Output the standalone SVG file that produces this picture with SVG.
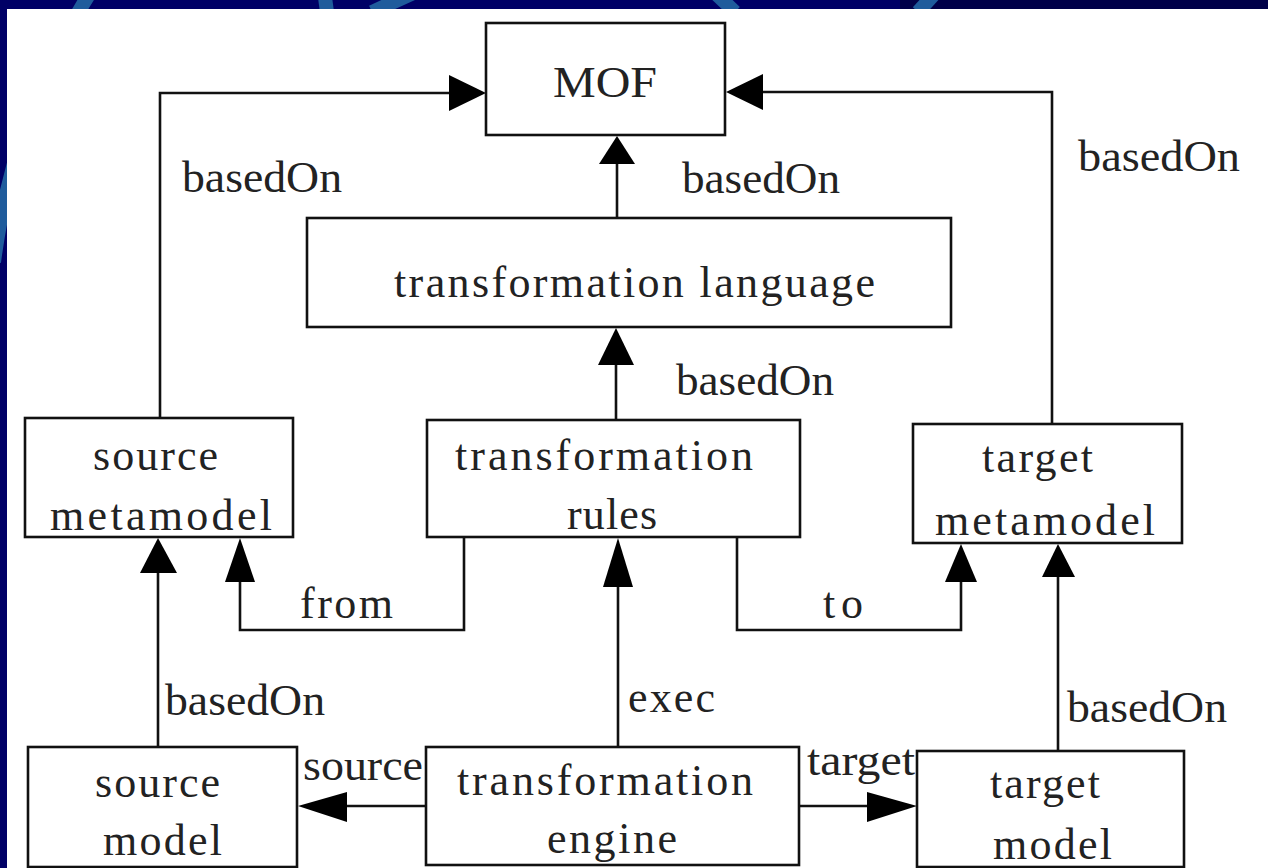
<svg xmlns="http://www.w3.org/2000/svg" width="1268" height="868" viewBox="0 0 1268 868">
  <style>
    .box { fill: #ffffff; stroke: #111111; stroke-width: 2.6; }
    .wire { fill: none; stroke: #111111; stroke-width: 2.6; }
    .head { fill: #000000; stroke: none; }
    .lbl { font-family: "Liberation Serif", "Times New Roman", serif; font-size: 44px; fill: #222222; }
    .deco { fill: none; stroke: #1f5c9c; stroke-width: 14; }
  </style>

  <!-- slide backdrop -->
  <rect x="0" y="0" width="1268" height="868" fill="#000066"/>
  <rect x="900" y="0" width="368" height="9" fill="#000048"/>
  <path class="deco" d="M -6 262 Q 14 110 92 -10"/>
  <path class="deco" d="M 324 -10 L 327 12"/>
  <path class="deco" d="M 372 12 L 420 -10" stroke="#2a6cae" stroke-width="20"/>
  <path class="deco" d="M 712 -10 L 735 12"/>
  <path class="deco" d="M 918 12 L 938 -10"/>

  <!-- white canvas -->
  <rect x="7" y="9" width="1261" height="859" fill="#ffffff"/>

  <!-- connectors -->
  <g id="connectors">
    <!-- source metamodel basedOn MOF -->
    <path class="wire" d="M160 418 V93 H452"/>
    <polygon class="head" points="486,93 449,75 449,111"/>
    <!-- transformation language basedOn MOF -->
    <path class="wire" d="M617 218 V160"/>
    <polygon class="head" points="617,136 599,164 635,164"/>
    <!-- target metamodel basedOn MOF -->
    <path class="wire" d="M1052 424 V92 H760"/>
    <polygon class="head" points="726,92 763,74 763,110"/>
    <!-- transformation rules basedOn transformation language -->
    <path class="wire" d="M616 420 V362"/>
    <polygon class="head" points="616,328 598,365 634,365"/>
    <!-- from -->
    <path class="wire" d="M464 537 V630 H240 V580"/>
    <polygon class="head" points="240,538 225,582 255,582"/>
    <!-- to -->
    <path class="wire" d="M737 537 V630 H961 V580"/>
    <polygon class="head" points="961,544 945,582 977,582"/>
    <!-- source model basedOn source metamodel -->
    <path class="wire" d="M158 747 V570"/>
    <polygon class="head" points="158,538 140,573 177,573"/>
    <!-- exec -->
    <path class="wire" d="M618 747 V584"/>
    <polygon class="head" points="618,538 603,587 633,587"/>
    <!-- target model basedOn target metamodel -->
    <path class="wire" d="M1058 751 V574"/>
    <polygon class="head" points="1058,544 1042,577 1075,577"/>
    <!-- source -->
    <path class="wire" d="M426 806 H344"/>
    <polygon class="head" points="298,806 347,792 347,822"/>
    <!-- target -->
    <path class="wire" d="M799 806 H870"/>
    <polygon class="head" points="917,806 867,792 867,822"/>

    <text class="lbl" x="182" y="192" textLength="160" lengthAdjust="spacingAndGlyphs">basedOn</text>
    <text class="lbl" x="682" y="193" textLength="158" lengthAdjust="spacingAndGlyphs">basedOn</text>
    <text class="lbl" x="1078" y="171" textLength="162" lengthAdjust="spacingAndGlyphs">basedOn</text>
    <text class="lbl" x="676" y="395" textLength="158" lengthAdjust="spacingAndGlyphs">basedOn</text>
    <text class="lbl" x="300" y="618" textLength="93" lengthAdjust="spacing">from</text>
    <text class="lbl" x="823" y="618" textLength="40" lengthAdjust="spacing">to</text>
    <text class="lbl" x="165" y="715" textLength="160" lengthAdjust="spacingAndGlyphs">basedOn</text>
    <text class="lbl" x="628" y="712" textLength="87" lengthAdjust="spacing">exec</text>
    <text class="lbl" x="1067" y="722" textLength="160" lengthAdjust="spacingAndGlyphs">basedOn</text>
    <text class="lbl" x="303" y="780" textLength="120" lengthAdjust="spacingAndGlyphs">source</text>
    <text class="lbl" x="807" y="775" textLength="108" lengthAdjust="spacingAndGlyphs">target</text>
  </g>

  <g id="mof">
    <rect class="box" x="486" y="23" width="239" height="112"/>
    <text class="lbl" x="553" y="97" textLength="104" lengthAdjust="spacingAndGlyphs">MOF</text>
  </g>

  <g id="transformation-language">
    <rect class="box" x="307" y="218" width="644" height="109"/>
    <text class="lbl" x="394" y="297" textLength="481" lengthAdjust="spacing">transformation language</text>
  </g>

  <g id="source-metamodel">
    <rect class="box" x="25" y="418" width="268" height="119"/>
    <text class="lbl" x="93" y="470" textLength="125" lengthAdjust="spacing">source</text>
    <text class="lbl" x="50" y="530" textLength="222" lengthAdjust="spacing">metamodel</text>
  </g>

  <g id="transformation-rules">
    <rect class="box" x="427" y="420" width="373" height="117"/>
    <text class="lbl" x="455" y="470" textLength="298" lengthAdjust="spacing">transformation</text>
    <text class="lbl" x="567" y="529" textLength="90" lengthAdjust="spacing">rules</text>
  </g>

  <g id="target-metamodel">
    <rect class="box" x="913" y="424" width="269" height="119"/>
    <text class="lbl" x="982" y="472" textLength="111" lengthAdjust="spacing">target</text>
    <text class="lbl" x="935" y="535" textLength="220" lengthAdjust="spacing">metamodel</text>
  </g>

  <g id="source-model">
    <rect class="box" x="28" y="747" width="269" height="120"/>
    <text class="lbl" x="95" y="797" textLength="125" lengthAdjust="spacing">source</text>
    <text class="lbl" x="103" y="855" textLength="119" lengthAdjust="spacing">model</text>
  </g>

  <g id="transformation-engine">
    <rect class="box" x="426" y="747" width="373" height="118"/>
    <text class="lbl" x="457" y="795" textLength="296" lengthAdjust="spacing">transformation</text>
    <text class="lbl" x="547" y="853" textLength="130" lengthAdjust="spacing">engine</text>
  </g>

  <g id="target-model">
    <rect class="box" x="917" y="751" width="267" height="116"/>
    <text class="lbl" x="990" y="798" textLength="110" lengthAdjust="spacing">target</text>
    <text class="lbl" x="993" y="859" textLength="119" lengthAdjust="spacing">model</text>
  </g>
</svg>
